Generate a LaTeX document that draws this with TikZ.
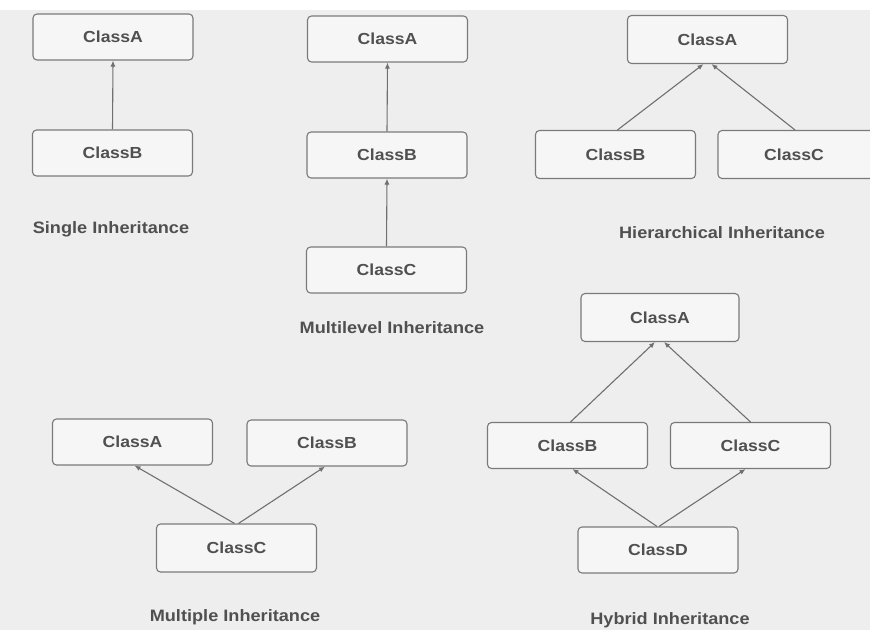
\documentclass[tikz,border=0pt]{standalone}
\usepackage{fontspec}
\setmainfont{Liberation Sans}
\usetikzlibrary{arrows.meta,calc}
\definecolor{bg}{HTML}{EEEEEE}
\definecolor{boxfill}{HTML}{F6F6F6}
\definecolor{boxline}{HTML}{7A7A7A}
\definecolor{txt}{HTML}{505050}
\definecolor{arr}{HTML}{707070}
\newcommand{\widetxt}[1]{\scalebox{1.1}[1]{#1}}
\begin{document}
\begin{tikzpicture}[x=1pt,y=-1pt,
  cls/.style={draw=boxline, fill=boxfill, line width=1.1pt, rounded corners=4pt,
    minimum width=160pt, minimum height=46pt, inner sep=0pt,
    font=\fontsize{16}{19}\selectfont\bfseries, text=txt},
  captxt/.style={font=\fontsize{16.5}{19}\selectfont\bfseries, text=txt, inner sep=0pt},
  inh/.style={draw=arr, line width=1.1pt, -{Latex[length=6pt,width=5pt]}}]
\useasboundingbox (0,0) rectangle (870,630);
\fill[bg] (0,0) rectangle (870,630);
\fill[white] (0,0) rectangle (870,10);
% Single
\node[cls] (sa) at (113,37) {\widetxt{ClassA}};
\node[cls] (sb) at (112.5,153) {\widetxt{ClassB}};
\draw[inh] (sb.north) -- (sa.south);
\node[captxt] (sl) at (111,229) {\widetxt{Single Inheritance}};
% Multilevel
\node[cls] (ma) at (387.5,39) {\widetxt{ClassA}};
\node[cls] (mb) at (387,155) {\widetxt{ClassB}};
\node[cls] (mc) at (386.5,270) {\widetxt{ClassC}};
\draw[inh] (mb.north) -- (ma.south);
\draw[inh] (mc.north) -- (mb.north |- mb.south);
\node[captxt] (ml) at (392,328) {\widetxt{Multilevel Inheritance}};
% Hierarchical
\node[cls, minimum height=48pt] (ha) at (707.5,39.5) {\widetxt{ClassA}};
\node[cls, minimum height=48pt] (hb) at (615.5,154.5) {\widetxt{ClassB}};
\node[cls, minimum height=48pt] (hc) at (798,154.5) {\hspace*{-8pt}\widetxt{ClassC}};
\draw[inh] ($(hb.north)+(2,0)$) -- ($(ha.south)+(-4,0)$);
\draw[inh] ($(hc.north)+(-3,0)$) -- ($(ha.south)+(4,0)$);
\node[captxt] (hl) at (722,233) {\widetxt{Hierarchical Inheritance}};
% Multiple
\node[cls] (pa) at (132.5,442) {\widetxt{ClassA}};
\node[cls] (pb) at (327,443) {\widetxt{ClassB}};
\node[cls, minimum height=48pt] (pc) at (236.5,548) {\widetxt{ClassC}};
\draw[inh] ($(pc.north)+(-2,0)$) -- ($(pa.south)+(2,0)$);
\draw[inh] ($(pc.north)+(2,0)$) -- ($(pb.south)+(-2,0)$);
\node[captxt] (pl) at (235,617) {\widetxt{Multiple Inheritance}};
% Hybrid
\node[cls, minimum width=158pt, minimum height=48pt] (ya) at (660,317.5) {\widetxt{ClassA}};
\node[cls] (yb) at (567.5,445.5) {\widetxt{ClassB}};
\node[cls] (yc) at (750.5,445.5) {\widetxt{ClassC}};
\node[cls] (yd) at (658,550) {\widetxt{ClassD}};
\draw[inh] ($(yb.north)+(3,0)$) -- ($(ya.south)+(-5,0)$);
\draw[inh] (yc.north) -- ($(ya.south)+(4,0)$);
\draw[inh] ($(yd.north)+(-1,0)$) -- ($(yb.south)+(5,0)$);
\draw[inh] ($(yd.north)+(1,0)$) -- ($(yc.south)+(-5,0)$);
\node[captxt] (yl) at (670,620) {\widetxt{Hybrid Inheritance}};
\end{tikzpicture}
\end{document}
